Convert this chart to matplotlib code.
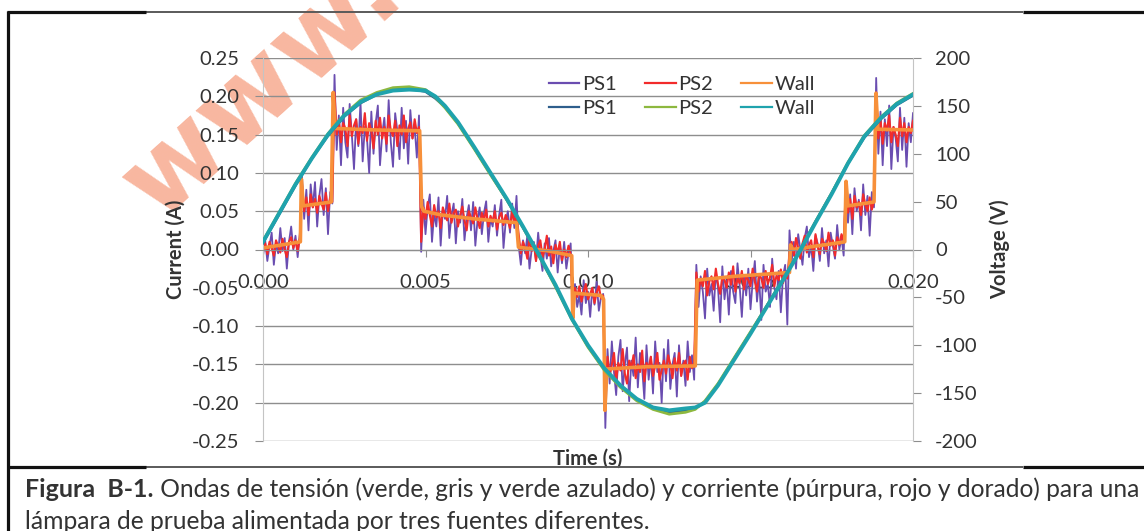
import numpy as np
import matplotlib
matplotlib.use("Agg")
import matplotlib.pyplot as plt
from matplotlib.lines import Line2D
from matplotlib.ticker import FormatStrFormatter

plt.rcParams['font.family'] = ['Lato', 'DejaVu Sans']

# ---------------- data ----------------
# Currents (mA) sampled uniformly over 0 .. 0.020 s
ps1_current_ma = [
    -8, 12, -15, 5, 22, -20, 8, -5, 28, -2, 15, -25, 10, 30, 0, 18, -10, 20,
    95, 40, 78, 25, 85, 55, 88, 30, 70, 92, 45, 80, 20, 75, 60,
    228, 130, 175, 110, 185, 140, 120, 190, 150, 105, 170, 135, 192, 115, 160, 145, 100, 180, 125, 165,
    188, 110, 150, 172, 128, 195, 140, 108, 178, 155, 118, 185, 132, 168, 112, 182, 145, 160, 120, 175,
    -3, 65, 20, 55, 72, 10, 48, 30, 68, 5, 52, 40, 70, 15, 45, 60, 8, 50, 35, 66, 12, 42, 58,
    25, 62, 5, 38, 55, 20, 48, 63, 10, 40, 30, 58, 18, 45, 65, 2, 36, 50, 22, 60, 28, 70,
    5, -20, 12, -5, 18, -25, 0, 10, -15, 22, -8, -28, 8, -12, 15, -22, -2, 12, -30, 5, -18, 10, -25, -5, 8,
    -90, -45, -75, -60, -85, -40, -70, -55, -88, -50, -72, -42, -80, -62, -58,
    -233, -130, -175, -120, -160, -190, -140, -118, -185, -150, -128, -198, -145, -165, -115, -180, -135,
    -155, -195, -125, -170, -140, -188, -120, -160, -148, -200, -130, -172, -118, -182, -150, -135, -192,
    -125, -165, -145, -178, -120, -160, -138, -170,
    -20, -75, -35, -55, -90, -25, -60, -45, -80, -30, -50, -95, -22, -65, -40, -85, -28, -55, -70, -18,
    -48, -88, -35, -60, -25, -78, -42, -15, -68, -38, -92, -20, -55, -45, -75, -12, -50, -65, -28, -82,
    -35, -20, -98,
    25, -15, 10, -25, 20, 0, -20, 15, 30, -10, 5, -28, 18, 8, -15, 28, -5, 12, -22, 22, 5, -12, 32, 0, 15, -8,
    89, 35, 72, 20, 80, 50, 65, 25, 85, 45, 70, 18, 75, 55,
    224, 125, 180, 110, 170, 135, 188, 105, 160, 145, 115, 185, 130, 172, 108, 165, 140, 178,
]

ps2_current_ma = [
    0, 8, -6, 10, 2, -8, 12, 4, -4, 14, 0, -10, 10, 16, 2, 12, -2, 15,
    85, 50, 68, 45, 72, 55, 66, 48, 70, 60, 52, 74, 50, 68, 62,
    205, 150, 170, 140, 165, 158, 135, 175, 148, 162, 170, 138, 160, 152, 178, 142, 165, 155, 132, 168,
    150, 172, 145, 160, 138, 175, 155, 148, 168, 135, 162, 150, 175, 140, 158, 166, 145, 170, 152, 160,
    10, 55, 40, 62, 45, 30, 58, 42, 50, 28, 55, 46, 38, 60, 35, 48, 52, 30, 44, 56, 38, 25, 50,
    42, 34, 55, 40, 28, 48, 38, 52, 30, 44, 36, 50, 26, 42, 48, 32, 45, 38, 28, 50, 35, 45,
    20, -5, 10, 2, -12, 15, -2, 8, -15, 5, 12, -10, 0, 18, -8, 4, -18, 6, -5, 10, -14, 0, -10, 5, -6,
    -75, -50, -62, -48, -68, -55, -45, -65, -58, -50, -70, -56, -48, -64, -60,
    -205, -140, -165, -150, -135, -170, -148, -158, -130, -162, -175, -145, -155, -138, -168, -150, -160,
    -132, -172, -148, -155, -140, -165, -152, -135, -170, -158, -145, -162, -138, -150, -168, -142, -158,
    -135, -165, -150, -145, -170, -140, -155, -148,
    -30, -55, -38, -48, -28, -60, -42, -35, -52, -25, -45, -58, -36, -40, -50, -30, -46, -22, -55, -38,
    -44, -28, -52, -35, -40, -48, -25, -42, -55, -32, -38, -50, -28, -45, -36, -20, -48, -34, -40, -26,
    -44, -30, -38,
    -5, 10, -8, 15, 2, -12, 8, 18, -4, 6, 12, -10, 20, 4, -6, 14, 8, -2, 22, 5, 12, -8, 16, 6, 20, 10,
    80, 48, 66, 40, 70, 55, 62, 45, 72, 58, 50, 68, 52, 64,
    205, 145, 170, 138, 165, 155, 175, 140, 160, 150, 135, 172, 148, 165, 140, 160, 152, 168,
]

# Wall current (A) polyline vertices
wall_current_t = [0.0, 0.00115, 0.00118, 0.00124, 0.0021, 0.00216, 0.00222, 0.0035, 0.00482,
                  0.00488, 0.00495, 0.0055, 0.0065, 0.0078, 0.00786, 0.0088, 0.0095, 0.00953,
                  0.00958, 0.0104, 0.01048, 0.01052, 0.01058, 0.0118, 0.0133, 0.01336, 0.0145,
                  0.0162, 0.01623, 0.0163, 0.0179, 0.01794, 0.0180, 0.0188, 0.01886, 0.01892, 0.0200]
wall_current_a = [0.002, 0.010, 0.092, 0.057, 0.062, 0.205, 0.158, 0.156, 0.155,
                  0.056, 0.050, 0.045, 0.040, 0.035, 0.003, -0.002, -0.008, -0.090,
                  -0.057, -0.060, -0.065, -0.210, -0.156, -0.153, -0.152, -0.040, -0.035,
                  -0.030, 0.006, 0.000, 0.010, 0.089, 0.057, 0.062, 0.204, 0.157, 0.156]

# Voltages (V) polyline vertices
voltage_t = [0.0, 0.0005, 0.001, 0.0015, 0.002, 0.0025, 0.003, 0.0035, 0.004, 0.0045,
             0.005, 0.0053, 0.0056, 0.006, 0.0065, 0.007, 0.0075, 0.008, 0.0085, 0.009,
             0.0095, 0.010, 0.0105, 0.011, 0.0115, 0.012, 0.0125, 0.013, 0.0133, 0.0136,
             0.014, 0.0145, 0.015, 0.0155, 0.016, 0.0165, 0.017, 0.0175, 0.018, 0.0185,
             0.019, 0.0195, 0.020]
wall_voltage = [8, 38, 68, 95, 120, 140, 154, 162, 166, 167, 166, 160, 150, 133, 107, 80, 53, 24,
                -6, -37, -72, -100, -124, -142, -156, -165, -168, -166, -165, -160, -142, -115,
                -88, -60, -32, -3, 28, 58, 90, 118, 137, 152, 162]
ps1_voltage = [7, 37, 67, 95, 119, 139, 153, 162, 167, 168, 165, 158, 149, 132, 106, 79, 52, 23,
               -7, -38, -72, -101, -125, -143, -157, -166, -170, -168, -166, -159, -141, -114,
               -87, -59, -31, -2, 29, 59, 90, 117, 136, 151, 161]
ps2_voltage = [9, 39, 69, 96, 121, 141, 156, 164, 169, 170, 167, 159, 148, 131, 105, 78, 52, 23,
               -7, -39, -73, -102, -126, -144, -158, -167, -172, -170, -167, -158, -140, -113,
               -86, -59, -31, -2, 29, 59, 91, 119, 138, 153, 163]

x_ticks = [0.000, 0.005, 0.010, 0.015, 0.020]
current_ticks = [-0.25, -0.20, -0.15, -0.10, -0.05, 0.00, 0.05, 0.10, 0.15, 0.20, 0.25]
voltage_ticks = [-200, -150, -100, -50, 0, 50, 100, 150, 200]

caption_bold = "Figura  B-1."
caption_rest = " Ondas de tensión (verde, gris y verde azulado) y corriente (púrpura, rojo y dorado) para una"
caption_line2 = "lámpara de prueba alimentada por tres fuentes diferentes."

# ---------------- figure ----------------
W, H = 1144, 531
fig = plt.figure(figsize=(W / 100, H / 100), dpi=100)
fig.patch.set_facecolor('white')

TXT = '#333333'
GRID = '#8E8E8E'
LIGHT = '#C4C4C4'
FS = 14.5

# watermark (behind the chart)
fig.text(262 / W, 1 - 88 / H, 'www.', rotation=42, fontsize=78, fontweight='bold',
         color='#F8B7A0', ha='center', va='center', rotation_mode='anchor',
         family='DejaVu Sans', zorder=-5)

ax = fig.add_axes([263 / W, 1 - 441 / H, 650 / W, 383 / H])
t1 = np.linspace(0, 0.02, len(ps1_current_ma))
t2 = np.linspace(0, 0.02, len(ps2_current_ma))
h_ps1c, = ax.plot(t1, np.array(ps1_current_ma) / 1000.0, color='#6A4DB0', lw=1.3, label='PS1')
h_ps2c, = ax.plot(t2, np.array(ps2_current_ma) / 1000.0, color='#F22B2B', lw=1.5, label='PS2')
h_wallc, = ax.plot(wall_current_t, wall_current_a, color='#F7903A', lw=2.6, label='Wall')

ax.set_xlim(0, 0.02)
ax.set_ylim(-0.25, 0.25)
ax.set_xticks(x_ticks)
ax.set_yticks(current_ticks)
ax.xaxis.set_major_formatter(FormatStrFormatter('%.3f'))
ax.yaxis.set_major_formatter(FormatStrFormatter('%.2f'))
ax.yaxis.grid(True, color=GRID, lw=1.0)
ax.set_axisbelow(True)
ax.patch.set_alpha(0)

ax.spines['top'].set_visible(False)
ax.spines['right'].set_visible(False)
ax.spines['left'].set_color(LIGHT)
ax.spines['bottom'].set_position(('data', 0))
ax.spines['bottom'].set_color(GRID)
ax.tick_params(axis='y', direction='out', length=6, color=GRID, labelsize=FS,
               labelcolor=TXT, pad=11)
ax.tick_params(axis='x', direction='out', length=5, color=GRID, labelsize=FS,
               labelcolor=TXT, pad=13)

ax.set_ylabel('Current (A)', fontsize=FS, fontweight='bold', color=TXT, va='center')
ax.yaxis.set_label_coords(-0.135, 0.5)
ax.set_xlabel('Time (s)', fontsize=FS, fontweight='bold', color=TXT, va='center')
ax.xaxis.set_label_coords(0.5, -0.047)

ax2 = ax.twinx()
h_ps1v, = ax2.plot(voltage_t, ps1_voltage, color='#2E5E8C', lw=2.0, label='PS1')
h_ps2v, = ax2.plot(voltage_t, ps2_voltage, color='#8DB83F', lw=2.0, label='PS2')
h_wallv, = ax2.plot(voltage_t, wall_voltage, color='#1FA3AD', lw=2.8, label='Wall')
ax2.set_ylim(-200, 200)
ax2.set_yticks(voltage_ticks)
ax2.yaxis.set_major_formatter(FormatStrFormatter('%d'))
for s in ['top', 'left', 'bottom']:
    ax2.spines[s].set_visible(False)
ax2.spines['right'].set_color(LIGHT)
ax2.tick_params(axis='y', direction='out', length=6, color=GRID, labelsize=FS,
                labelcolor=TXT, pad=10)
ax2.set_ylabel('Voltage (V)', fontsize=FS, fontweight='bold', color=TXT, va='center',
               rotation=90)
ax2.yaxis.set_label_coords(1.134, 0.5)

leg = ax2.legend([h_ps1c, h_ps1v, h_ps2c, h_ps2v, h_wallc, h_wallv],
                 ['PS1', 'PS1', 'PS2', 'PS2', 'Wall', 'Wall'],
                 ncol=3, loc='center', bbox_to_anchor=(0.645, 0.90), frameon=False,
                 fontsize=FS, handlelength=1.5, handletextpad=0.15, columnspacing=1.4,
                 labelspacing=0.35)
for txt in leg.get_texts():
    txt.set_color(TXT)
for ln in leg.get_lines():
    ln.set_linewidth(1.6)

# ---------------- frame lines ----------------
def hline(x0, x1, y, color, lw):
    fig.add_artist(Line2D([x0 / W, x1 / W], [1 - y / H, 1 - y / H], transform=fig.transFigure,
                          color=color, lw=lw, solid_capstyle='butt'))

hline(146, 1023, 12, '#5A5A5A', 1.4)
hline(7, 146, 12, '#111111', 2.3)
hline(1023, 1144, 12, '#111111', 2.3)
hline(146, 1023, 467, '#5A5A5A', 1.4)
hline(7, 146, 467, '#111111', 2.3)
hline(1023, 1144, 467, '#111111', 2.3)
fig.add_artist(Line2D([8 / W, 8 / W], [1 - 11 / H, 0], transform=fig.transFigure,
                      color='#111111', lw=2.3, solid_capstyle='butt'))

# ---------------- caption ----------------
fig.canvas.draw()
renderer = fig.canvas.get_renderer()
cap_y = 1 - 497 / H
t_b = fig.text(25 / W, cap_y, caption_bold, fontsize=18, fontweight='bold', color=TXT,
               va='baseline', ha='left')
bb = t_b.get_window_extent(renderer)
x_rest = bb.x1
fs_rest = 14.5
t_r = fig.text(x_rest / W, cap_y, caption_rest, fontsize=fs_rest, color=TXT, va='baseline', ha='left')
w_r = t_r.get_window_extent(renderer).width
target = 1137 - x_rest
fs_rest = fs_rest * target / w_r
t_r.set_fontsize(fs_rest)
fig.text(25 / W, 1 - 529 / H, caption_line2, fontsize=fs_rest, color=TXT, va='baseline', ha='left')

fig.savefig('out.png', dpi=100)
